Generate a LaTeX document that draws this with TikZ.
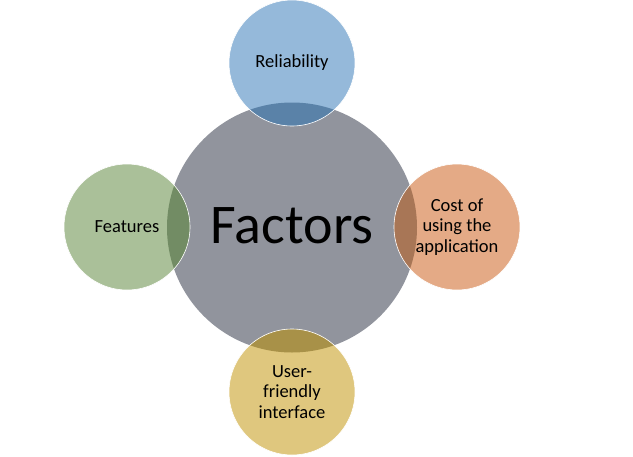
\documentclass[tikz,border=0pt]{standalone}
\usepackage{fontspec}
\setmainfont{Carlito}
\usepackage{tikz}
\usetikzlibrary{positioning}
\definecolor{factgray}{RGB}{145,148,157}
\definecolor{relblue}{RGB}{149,185,218}
\definecolor{relblueov}{RGB}{90,130,168}
\definecolor{costorange}{RGB}{228,170,134}
\definecolor{costorangeov}{RGB}{168,118,86}
\definecolor{useryellow}{RGB}{223,199,126}
\definecolor{useryellowov}{RGB}{168,145,72}
\definecolor{featgreen}{RGB}{170,192,153}
\definecolor{featgreenov}{RGB}{114,140,100}
\tikzset{
  hub/.style={circle, fill=factgray, minimum size=250pt, inner sep=0pt,
    font=\fontsize{56}{64}\selectfont},
  factor/.style={circle, draw=white, line width=0.6pt, minimum size=126pt,
    inner sep=0pt, align=center, font=\fontsize{18.5}{20.5}\selectfont},
  overlap/.style={path picture={\fill[#1] (hub.center) circle (125pt);}}
}
\begin{document}
\begin{tikzpicture}[x=1pt,y=-1pt]
  \useasboundingbox (0,0) rectangle (633,456);
  \node[hub] (hub) at (292,227.5) {};
  \node (title) at (292,226) [font=\fontsize{56}{64}\selectfont] {Factors};
  \node[factor, fill=relblue, overlap=relblueov] (reli) at (292,63) {Reliability};
  \node[factor, fill=costorange, overlap=costorangeov] (cost) at (457,227) {Cost of\\using the\\application};
  \node[factor, fill=useryellow, overlap=useryellowov] (user) at (292,392) {User-\\friendly\\interface};
  \node[factor, fill=featgreen, overlap=featgreenov] (feat) at (127,227) {Features};
\end{tikzpicture}
\end{document}
